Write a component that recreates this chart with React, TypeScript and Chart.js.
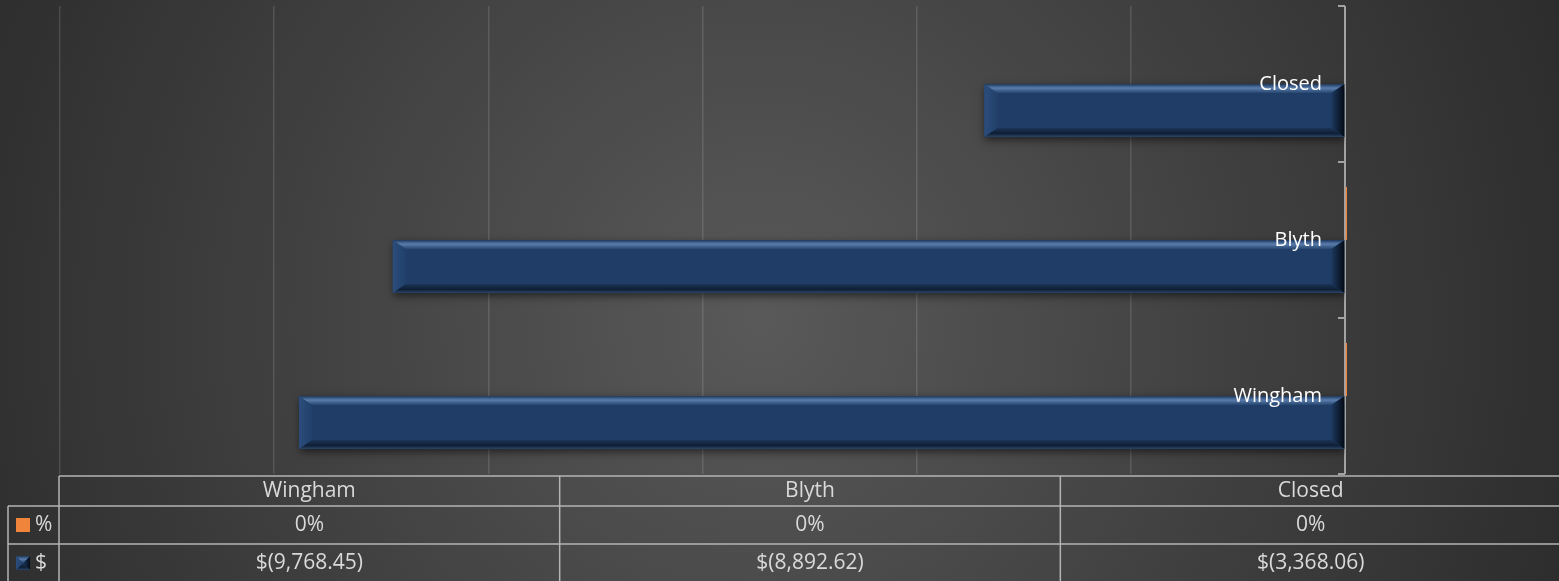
import React, { useEffect, useRef } from 'react';
import { Chart, registerables } from 'chart.js';

Chart.register(...registerables);

// ---- data ----
const categories = ['Wingham', 'Blyth', 'Closed'];
const seriesNames = ['%', '$'];
const percentValues = [0.004, 0.004, 0];
const dollarValues = [-9768.45, -8892.62, -3368.06];
const axisMin = -12000;
const axisMax = 0;
const axisStep = 2000;

const FONT = '"Open Sans", "DejaVu Sans", sans-serif';
const ORANGE = '#f0843a';
const BLUE = '#1f3d66';

function fmtDollar(v: number): string {
  const s = Math.abs(v).toLocaleString('en-US', { minimumFractionDigits: 2, maximumFractionDigits: 2 });
  return v < 0 ? `$(${s})` : `$${s}`;
}
function fmtPct(v: number): string {
  return `${Math.round(v * 100)}%`;
}

function drawBevel(ctx: CanvasRenderingContext2D, L: number, T: number, R: number, B: number) {
  const bx = Math.min(13, (R - L) / 2);
  const by = Math.min(9, (B - T) / 2);
  ctx.save();
  let g = ctx.createLinearGradient(L, 0, L + bx, 0);
  g.addColorStop(0, '#2c4d7b');
  g.addColorStop(1, '#21406b');
  ctx.fillStyle = g;
  ctx.beginPath();
  ctx.moveTo(L, T); ctx.lineTo(L + bx, T + by); ctx.lineTo(L + bx, B - by); ctx.lineTo(L, B); ctx.closePath();
  ctx.fill();
  g = ctx.createLinearGradient(R - bx, 0, R, 0);
  g.addColorStop(0, '#1d3a61');
  g.addColorStop(1, '#040b16');
  ctx.fillStyle = g;
  ctx.beginPath();
  ctx.moveTo(R, T); ctx.lineTo(R - bx, T + by); ctx.lineTo(R - bx, B - by); ctx.lineTo(R, B); ctx.closePath();
  ctx.fill();
  g = ctx.createLinearGradient(0, T, 0, T + by);
  g.addColorStop(0, '#1c375c');
  g.addColorStop(0.45, '#5a7dac');
  g.addColorStop(1, '#26466f');
  ctx.fillStyle = g;
  ctx.beginPath();
  ctx.moveTo(L, T); ctx.lineTo(R, T); ctx.lineTo(R - bx, T + by); ctx.lineTo(L + bx, T + by); ctx.closePath();
  ctx.fill();
  g = ctx.createLinearGradient(0, B - by, 0, B);
  g.addColorStop(0, '#1a3456');
  g.addColorStop(0.6, '#0f1f35');
  g.addColorStop(1, '#2a4569');
  ctx.fillStyle = g;
  ctx.beginPath();
  ctx.moveTo(L, B); ctx.lineTo(R, B); ctx.lineTo(R - bx, B - by); ctx.lineTo(L + bx, B - by); ctx.closePath();
  ctx.fill();
  ctx.restore();
}

const backgroundPlugin = {
  id: 'bgGradient',
  beforeDraw(chart: any) {
    const { ctx, width, height } = chart;
    ctx.save();
    const g = ctx.createRadialGradient(760, 320, 0, 760, 320, 900);
    g.addColorStop(0, '#595959');
    g.addColorStop(1, '#2a2a2a');
    ctx.fillStyle = g;
    ctx.fillRect(0, 0, width, height);
    ctx.restore();
  },
};

const axisPlugin = {
  id: 'valueAxisLine',
  beforeDatasetsDraw(chart: any) {
    const { ctx, chartArea, scales } = chart;
    const y = scales.y;
    const x0 = scales.x.getPixelForValue(0);
    ctx.save();
    ctx.strokeStyle = '#a3a3a3';
    ctx.lineWidth = 2;
    ctx.beginPath();
    ctx.moveTo(x0, chartArea.top);
    ctx.lineTo(x0, chartArea.bottom);
    for (let i = 0; i <= categories.length; i++) {
      const py = y.getPixelForValue(i - 0.5);
      ctx.moveTo(x0 - 7, py);
      ctx.lineTo(x0, py);
    }
    ctx.stroke();
    ctx.restore();
  },
};

const bevelPlugin = {
  id: 'bevelBars',
  beforeDatasetDraw(chart: any, args: any) {
    if (args.index === 1) {
      const ctx = chart.ctx;
      ctx.save();
      ctx.shadowColor = 'rgba(0,0,0,0.55)';
      ctx.shadowBlur = 8;
      ctx.shadowOffsetX = 1;
      ctx.shadowOffsetY = 3;
    }
  },
  afterDatasetDraw(chart: any, args: any) {
    if (args.index !== 1) return;
    const ctx = chart.ctx;
    ctx.restore();
    const meta = chart.getDatasetMeta(1);
    meta.data.forEach((el: any) => {
      const p = el.getProps(['x', 'y', 'base', 'height'], true);
      const L = Math.min(p.x, p.base);
      const R = Math.max(p.x, p.base);
      const T = p.y - p.height / 2;
      const B = p.y + p.height / 2;
      drawBevel(ctx, L, T, R, B);
    });
  },
};

const tablePlugin = {
  id: 'dataTable',
  afterDraw(chart: any) {
    const { ctx, chartArea, width } = chart;
    const left = chartArea.left - 1;
    const legendLeft = 8;
    const headTop = chartArea.bottom + 2;
    const row1 = headTop + 30;
    const row2 = row1 + 38;
    const row3 = row2 + 38;
    const colW = (width + 2 - left) / categories.length;
    ctx.save();
    ctx.strokeStyle = '#b4b4b4';
    ctx.lineWidth = 1.5;
    ctx.beginPath();
    ctx.moveTo(left, headTop); ctx.lineTo(width, headTop);
    ctx.moveTo(legendLeft, row1); ctx.lineTo(width, row1);
    ctx.moveTo(legendLeft, row2); ctx.lineTo(width, row2);
    ctx.moveTo(legendLeft, row3); ctx.lineTo(width, row3);
    ctx.moveTo(legendLeft, row1); ctx.lineTo(legendLeft, row3);
    for (let i = 0; i < categories.length; i++) {
      const cx = left + i * colW;
      ctx.moveTo(cx, headTop); ctx.lineTo(cx, row3);
    }
    ctx.stroke();

    ctx.fillStyle = '#d9d9d9';
    ctx.font = `21px ${FONT}`;
    ctx.textAlign = 'center';
    ctx.textBaseline = 'middle';
    categories.forEach((c, i) => {
      const cx = left + i * colW + colW / 2;
      ctx.fillText(c, cx, (headTop + row1) / 2);
      ctx.fillText(fmtPct(percentValues[i]), cx, (row1 + row2) / 2);
      ctx.fillText(fmtDollar(dollarValues[i]), cx, (row2 + row3) / 2);
    });

    ctx.textAlign = 'left';
    ctx.fillText(seriesNames[0], 35, (row1 + row2) / 2);
    ctx.fillText(seriesNames[1], 35, (row2 + row3) / 2);
    ctx.fillStyle = ORANGE;
    ctx.fillRect(16, (row1 + row2) / 2 - 7, 14, 14);
    ctx.fillStyle = BLUE;
    ctx.fillRect(16, (row2 + row3) / 2 - 7, 14, 14);
    drawBevel(ctx, 16, (row2 + row3) / 2 - 7, 30, (row2 + row3) / 2 + 7);
    ctx.restore();
  },
};

export default function App() {
  const canvasRef = useRef<HTMLCanvasElement | null>(null);

  useEffect(() => {
    if (!canvasRef.current) return;
    const chart = new Chart(canvasRef.current, {
      type: 'bar',
      data: {
        labels: categories,
        datasets: [
          {
            label: seriesNames[0],
            data: percentValues.map((v) => (v === 0 ? null : v)),
            backgroundColor: ORANGE,
            minBarLength: 2,
            clip: false as any,
            categoryPercentage: 0.68,
            barPercentage: 1,
          },
          {
            label: seriesNames[1],
            data: dollarValues,
            backgroundColor: BLUE,
            categoryPercentage: 0.68,
            barPercentage: 1,
          },
        ],
      },
      options: {
        indexAxis: 'y',
        responsive: false,
        animation: false,
        layout: { padding: { left: 60, top: 6, right: 0, bottom: 0 } },
        plugins: { legend: { display: false }, tooltip: { enabled: false } },
        scales: {
          x: {
            position: 'bottom',
            min: axisMin,
            max: axisMax,
            ticks: { display: false, stepSize: axisStep },
            grid: { color: 'rgba(255,255,255,0.13)', lineWidth: 1.5, drawTicks: false },
            border: { display: false },
            afterFit: (axis: any) => { axis.height = 107; axis.paddingLeft = 0; axis.paddingRight = 0; },
          },
          y: {
            position: 'right',
            reverse: true,
            grid: { display: false, drawTicks: false },
            border: { display: false },
            ticks: {
              z: 1,
              mirror: true,
              padding: -23,
              color: '#ffffff',
              font: { family: FONT, size: 20 },
            },
            afterFit: (axis: any) => { axis.width = 214; axis.paddingTop = 0; axis.paddingBottom = 0; },
          },
        },
      },
      plugins: [backgroundPlugin, axisPlugin, bevelPlugin, tablePlugin],
    });
    return () => chart.destroy();
  }, []);

  return (
    <div style={{ position: 'fixed', left: 0, top: 0, width: 1559, height: 581 }}>
      <canvas ref={canvasRef} width={1559} height={581} style={{ display: 'block' }} />
    </div>
  );
}
